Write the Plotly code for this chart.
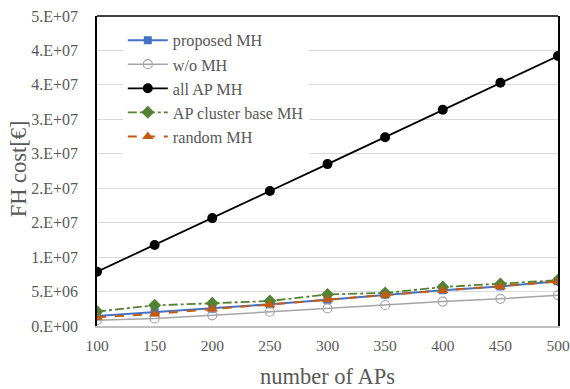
import plotly.graph_objects as go

num_aps = [100, 150, 200, 250, 300, 350, 400, 450, 500]
proposed_mh = [1.45e6, 2.0e6, 2.5e6, 3.15e6, 3.8e6, 4.55e6, 5.2e6, 5.75e6, 6.5e6]
wo_mh = [0.85e6, 1.1e6, 1.55e6, 2.07e6, 2.55e6, 3.05e6, 3.55e6, 3.95e6, 4.45e6]
all_ap_mh = [7.88e6, 11.75e6, 15.66e6, 19.6e6, 23.5e6, 27.4e6, 31.4e6, 35.3e6, 39.2e6]
cluster_mh = [2.1e6, 3.0e6, 3.3e6, 3.63e6, 4.58e6, 4.8e6, 5.65e6, 6.1e6, 6.65e6]
random_mh = [1.25e6, 1.75e6, 2.45e6, 3.08e6, 3.8e6, 4.5e6, 5.15e6, 5.7e6, 6.45e6]

y_tickvals = [0, 5e6, 10e6, 15e6, 20e6, 25e6, 30e6, 35e6, 40e6, 45e6]
y_ticktext = ["0.E+00", "5.E+06", "1.E+07", "2.E+07", "2.E+07", "3.E+07",
              "3.E+07", "4.E+07", "4.E+07", "5.E+07"]
x_tickvals = [100, 150, 200, 250, 300, 350, 400, 450, 500]

FONT = "Liberation Serif"
GRAY_TXT = "#595959"

fig = go.Figure()
fig.add_trace(go.Scatter(x=num_aps, y=proposed_mh, name="proposed MH", mode="lines+markers",
                         line=dict(color="#4472C4", width=2),
                         marker=dict(symbol="square", size=8, color="#4472C4")))
fig.add_trace(go.Scatter(x=num_aps, y=wo_mh, name="w/o MH", mode="lines+markers",
                         line=dict(color="#A5A5A5", width=1.5),
                         marker=dict(symbol="circle-open", size=9, color="#A5A5A5",
                                     line=dict(width=1.2))))
fig.add_trace(go.Scatter(x=num_aps, y=all_ap_mh, name="all AP MH", mode="lines+markers",
                         line=dict(color="#000000", width=1.8),
                         marker=dict(symbol="circle", size=10, color="#000000")))
fig.add_trace(go.Scatter(x=num_aps, y=cluster_mh, name="AP cluster base MH", mode="lines+markers",
                         line=dict(color="#548235", width=1.8, dash="dashdot"),
                         marker=dict(symbol="diamond", size=10, color="#548235")))
fig.add_trace(go.Scatter(x=num_aps, y=random_mh, name="random MH", mode="lines+markers",
                         line=dict(color="#C55A11", width=2, dash="dash"),
                         marker=dict(symbol="triangle-up", size=10, color="#C55A11")))

fig.update_layout(
    width=570, height=389,
    margin=dict(l=97, r=12, t=16, b=63, autoexpand=False),
    paper_bgcolor="white", plot_bgcolor="white",
    font=dict(family=FONT, color=GRAY_TXT, size=15),
    showlegend=True,
    legend=dict(x=0.056, y=0.977, xanchor="left", yanchor="top",
                bgcolor="white", font=dict(family=FONT, size=16.2, color=GRAY_TXT),
                tracegroupgap=0, itemwidth=40),
    xaxis=dict(range=[100, 500], tickvals=x_tickvals, showgrid=False,
               showline=True, linecolor="#BFBFBF", linewidth=2,
               ticks="", ticklabelstandoff=4, automargin=False,
               tickfont=dict(family=FONT, size=15.5, color=GRAY_TXT),
               zeroline=False),
    yaxis=dict(range=[0, 45e6], tickvals=y_tickvals, ticktext=y_ticktext,
               showgrid=True, gridcolor="#D9D9D9", gridwidth=1,
               showline=True, linecolor="#000000", linewidth=1.5, mirror=True,
               ticks="", ticklabelstandoff=14, automargin=False,
               tickfont=dict(family=FONT, size=16, color=GRAY_TXT),
               zeroline=False),
    shapes=[dict(type="line", xref="x domain", yref="y domain", x0=0, x1=1, y0=1, y1=1,
                 line=dict(color="#000000", width=1.5))],
    annotations=[
        dict(text="number of APs", xref="paper", yref="paper", x=0.5, y=-0.163,
             xanchor="center", yanchor="middle", showarrow=False,
             font=dict(family=FONT, size=22.5, color=GRAY_TXT)),
        dict(text="FH cost[€]", xref="paper", yref="paper", x=-0.171, y=0.506,
             xanchor="center", yanchor="middle", showarrow=False, textangle=-90,
             font=dict(family=FONT, size=22.5, color=GRAY_TXT)),
    ],
)

fig.write_html("out.html", config={"displayModeBar": False},
               post_script="document.body.style.margin='0px';document.body.style.padding='0px';")
